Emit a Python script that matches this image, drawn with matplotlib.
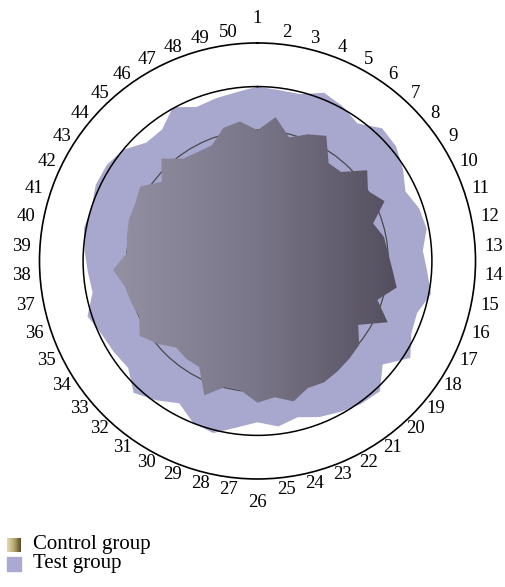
import numpy as np
import matplotlib.pyplot as plt
from matplotlib.image import AxesImage
from matplotlib.colors import LinearSegmentedColormap
from matplotlib.patches import Rectangle

categories = [str(i) for i in range(1, 51)]

test_group = [80, 79, 79, 83, 81, 78, 83.5, 82.5, 79, 75,
              78, 79, 76, 78, 81, 77, 78, 83, 74.5, 82,
              81, 79, 77, 74, 76.5, 74, 77, 81.5, 80, 74.5,
              79, 83, 77, 78, 79, 82, 77, 78, 79.5, 81,
              80, 82, 82, 80, 74.5, 74.5, 80.5, 76, 77, 78]

control_group = [60, 66.5, 58.5, 62.5, 65.5, 55.5, 56, 65.3, 60, 64.4,
                 55.8, 59, 60, 62, 65, 57.8, 66, 54.7, 60.5, 61.5,
                 62.5, 63.5, 62.7, 66.5, 63, 65, 60, 59.6, 66.3, 55.5,
                 55.5, 54.5, 59.6, 64, 60, 61, 62, 66.4, 60, 61,
                 62, 62, 63.7, 57, 64.4, 58, 57, 57, 63, 64.5]

plt.rcParams['font.family'] = ['Liberation Serif', 'DejaVu Serif']

fig = plt.figure(figsize=(5.05, 5.87), dpi=100)
ax = fig.add_axes([0.0782, 0.184, 0.8634, 0.7428], projection='polar')
ax.set_theta_zero_location('N')
ax.set_theta_direction(-1)

theta = np.linspace(0, 2 * np.pi, len(categories), endpoint=False)
t_closed = np.append(theta, theta[0])

# test group, flat fill
ax.fill(t_closed, test_group + test_group[:1], color='#a8a8ce', lw=0, zorder=1)

# control group, horizontal gradient clipped to the polygon
clip, = ax.fill(t_closed, control_group + control_group[:1],
                facecolor='none', edgecolor='none', zorder=3)
cmap = LinearSegmentedColormap.from_list('ctrl', ['#9391a3', '#7a7689', '#524d5c'])
im = AxesImage(ax, cmap=cmap, extent=(0.16, 0.83, 0, 1),
               transform=ax.transAxes, zorder=3, interpolation='bilinear')
im.set_data(np.linspace(0, 1, 256).reshape(1, -1))
im.set_clip_path(clip)
ax.add_image(im)

ax.set_ylim(0, 100)
ax.set_rgrids([60, 80], labels=[])
ax.set_xticks(theta)
ax.set_xticklabels([])
ax.tick_params(length=0)
ax.xaxis.grid(False)
ax.set_axisbelow(False)
gl = ax.yaxis.get_gridlines()
gl[0].set_color('#4a4a4a')
gl[0].set_linewidth(0.9)
gl[0].set_linestyle('-')
gl[1].set_color('black')
gl[1].set_linewidth(1.1)
gl[1].set_linestyle('-')
ax.spines['polar'].set_linewidth(1.2)
ax.spines['polar'].set_color('black')

for ang, lab in zip(theta, categories):
    r_px = 230 + 7 * np.sin(ang) ** 8 + (12 if abs(np.cos(ang)) > 0.999 else 0)
    ax.text(ang, r_px / 2.18, lab, ha='center', va='center', fontsize=13.5)

# legend
lax = fig.add_axes([0.0139, 0.0596, 0.0277, 0.0239])
lcmap = LinearSegmentedColormap.from_list('leg', ['#e2dab4', '#b8a874', '#5a4826'])
lax.imshow(np.linspace(0, 1, 64).reshape(1, -1), cmap=lcmap, aspect='auto')
lax.axis('off')
fig.patches.append(Rectangle((0.0139, 0.0273), 0.0277, 0.0239,
                             transform=fig.transFigure, color='#a9a9d3'))
fig.text(0.0653, 0.0716, 'Control group', fontsize=15, va='center')
fig.text(0.0653, 0.0392, 'Test group', fontsize=15, va='center')

fig.savefig('out.png', dpi=100)
